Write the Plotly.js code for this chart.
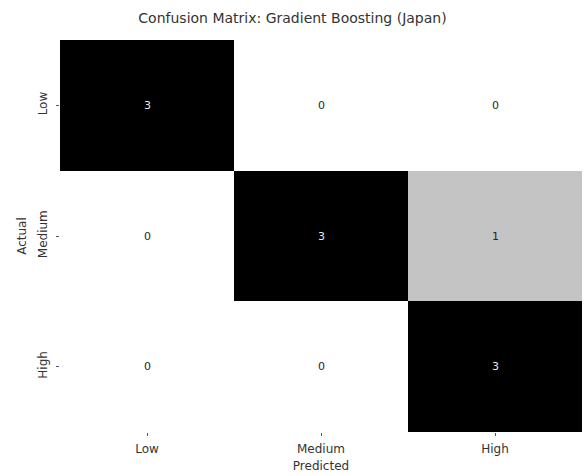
<!DOCTYPE html>
<html>
<head>
<meta charset="utf-8">
<script src="https://cdn.plot.ly/plotly-3.0.1.min.js"></script>
<style>
  html, body { margin: 0; padding: 0; background: #fff; }
  #chart { width: 585px; height: 476px; }
</style>
</head>
<body>
<div id="chart"></div>
<script>
// Class labels shared by both axes
const classes = ['Low', 'Medium', 'High'];
// Counts: rows = actual class, columns = predicted class
const rowLow = [3, 0, 0];
const rowMedium = [0, 3, 1];
const rowHigh = [0, 0, 3];
const counts = [rowLow, rowMedium, rowHigh];

const font = 'DejaVu Sans, sans-serif';
const zMax = 3;

const trace = {
  type: 'heatmap',
  x: classes,
  y: classes,
  z: counts,
  zmin: 0,
  zmax: zMax,
  colorscale: [[0, '#ffffff'], [1 / 3, '#c4c4c4'], [1, '#000000']],
  showscale: false,
  hoverinfo: 'skip'
};

// Cell count labels: light text on dark cells, dark text on light cells
const annotations = [];
counts.forEach((row, i) => {
  row.forEach((v, j) => {
    annotations.push({
      x: classes[j],
      y: classes[i],
      xref: 'x',
      yref: 'y',
      text: String(v),
      showarrow: false,
      font: { family: font, size: 11, color: v > zMax / 2 ? '#e8e8e8' : '#262626' }
    });
  });
});

const layout = {
  width: 585,
  height: 476,
  margin: { l: 60, r: 3, t: 40, b: 44 },
  paper_bgcolor: '#ffffff',
  plot_bgcolor: '#ffffff',
  font: { family: font, color: '#333333', size: 12 },
  title: {
    text: 'Confusion Matrix: Gradient Boosting (Japan)',
    font: { family: font, size: 14, color: '#333333' },
    x: 0.5,
    xanchor: 'center',
    y: 0.962,
    yanchor: 'middle'
  },
  annotations: annotations,
  xaxis: {
    type: 'category',
    showgrid: false,
    zeroline: false,
    showline: false,
    ticks: 'outside',
    ticklen: 3,
    tickcolor: '#555',
    ticklabelstandoff: 3,
    tickfont: { family: font, size: 12, color: '#333' },
    title: { text: 'Predicted', font: { family: font, size: 12, color: '#333' }, standoff: 6 }
  },
  yaxis: {
    type: 'category',
    autorange: 'reversed',
    showgrid: false,
    zeroline: false,
    showline: false,
    ticks: 'outside',
    ticklen: 3,
    tickcolor: '#555',
    tickangle: -90,
    ticklabelstandoff: 4,
    tickfont: { family: font, size: 12, color: '#333' },
    title: { text: 'Actual', font: { family: font, size: 12, color: '#333' }, standoff: 7 }
  }
};

Plotly.newPlot('chart', [trace], layout, { displayModeBar: false, staticPlot: true });
</script>
</body>
</html>
